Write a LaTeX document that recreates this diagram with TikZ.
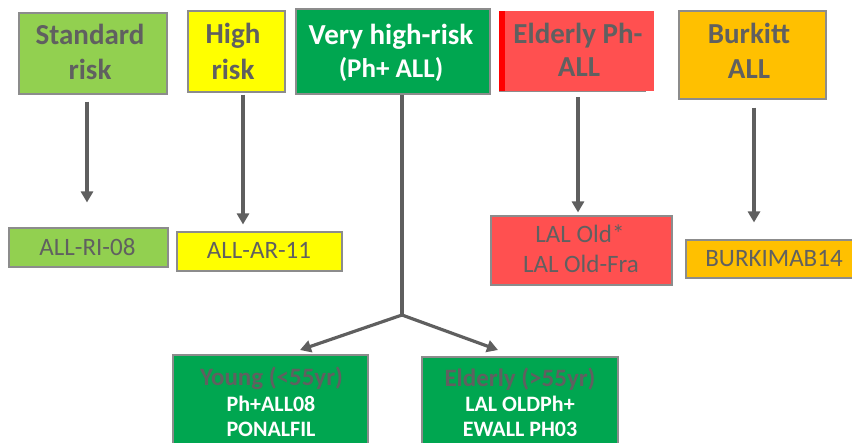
\documentclass[tikz,border=0pt]{standalone}
\usepackage{fontspec}
\setmainfont{Carlito}
\usetikzlibrary{arrows.meta}

\definecolor{lightgreen}{HTML}{92D050}
\definecolor{brightyellow}{HTML}{FFFF00}
\definecolor{deepgreen}{HTML}{00A650}
\definecolor{salmonred}{HTML}{FF5050}
\definecolor{barred}{HTML}{FF0000}
\definecolor{amber}{HTML}{FFC000}
\definecolor{txtgray}{HTML}{606060}
\definecolor{boxline}{HTML}{8C8C8C}
\definecolor{arrowgray}{HTML}{5F5F5F}

\begin{document}
\begin{tikzpicture}[x=1pt,y=-1pt,
  box/.style={draw=boxline, line width=1.1pt, inner sep=0pt},
  plain/.style={inner sep=0pt},
  ttl/.style={font=\fontsize{29}{33}\selectfont\bfseries, text=txtgray, anchor=base, inner sep=0pt},
  ttlw/.style={ttl, text=white},
  ttlsm/.style={ttl, font=\fontsize{25}{29}\selectfont\bfseries},
  sub/.style={font=\fontsize{22}{26}\selectfont\bfseries, text=white, anchor=base, inner sep=0pt},
  subbig/.style={sub, font=\fontsize{27}{31}\selectfont\bfseries},
  reg/.style={font=\fontsize{25}{29}\selectfont, text=txtgray, anchor=base, inner sep=0pt},
  conn/.style={draw=arrowgray, line width=3.2pt},
  arr/.style={conn, -{Triangle[length=11pt,width=12pt]}},
]
\useasboundingbox (0,0) rectangle (852,443);

% risk groups, top row
\node[box, fill=lightgreen, minimum width=148pt, minimum height=81pt] (std) at (93,53.5) {};
\node[box, fill=brightyellow, minimum width=97pt, minimum height=81pt] (high) at (236.5,51.5) {};
\node[box, fill=deepgreen, minimum width=194pt, minimum height=85pt] (vhr) at (393,51.5) {};
\node[plain, fill=salmonred, minimum width=155pt, minimum height=80pt] (eld) at (576.5,51) {};
\fill[barred] (eld.north west) rectangle (eld.south west -| 505,0);
\draw[boxline, line width=1.1pt] (eld.south west) -- (eld.south west -| 646,0);
\node[box, fill=amber, minimum width=147pt, minimum height=88pt] (bur) at (752.5,55) {};

\node[ttl] (stdA) at (90,45) {Standard};
\node[ttl] (stdB) at (90,80) {risk};
\node[ttl] (highA) at (233,44) {High};
\node[ttl] (highB) at (233,80) {risk};
\node[ttlw] (vhrA) at (391,45) {Very high-risk};
\node[subbig] (vhrB) at (391,78) {(Ph+ ALL)};
\node[ttl] (eldA) at (578,44) {Elderly Ph-};
\node[ttl] (eldB) at (579,77) {ALL};
\node[ttl] (burA) at (749,44) {Burkitt};
\node[ttl] (burB) at (749,79) {ALL};

% protocols
\node[box, fill=lightgreen, minimum width=159pt, minimum height=39pt] (stdp) at (88.5,247.5) {};
\node[box, fill=brightyellow, minimum width=165pt, minimum height=39pt] (highp) at (259.5,251.5) {};
\node[box, fill=salmonred, minimum width=181pt, minimum height=69pt] (eldp) at (581.5,250.5) {};
\node[box, fill=amber, minimum width=172pt, minimum height=38pt] (burp) at (772,259) {};
\node[box, fill=deepgreen, minimum width=195pt, minimum height=100pt] (young) at (270.5,405) {};
\node[box, fill=deepgreen, minimum width=196pt, minimum height=100pt] (old) at (520,407) {};

\node[reg] (stdpT) at (87.5,256) {ALL-RI-08};
\node[reg] (highpT) at (259,259) {ALL-AR-11};
\node[reg] (eldpA) at (580,243) {LAL Old*};
\node[reg] (eldpB) at (581,273) {LAL Old-Fra};
\node[reg] (burpT) at (774,267) {BURKIMAB14};

\node[ttlsm] (youngA) at (271.5,386) {Young (<55yr)};
\node[sub] (youngB) at (271,412) {Ph+ALL08};
\node[sub] (youngC) at (271,437) {PONALFIL};
\node[ttlsm] (oldA) at (520,386.5) {Elderly (>55yr)};
\node[sub] (oldB) at (520,412) {LAL OLDPh+};
\node[sub] (oldC) at (520,437) {EWALL PH03};

% connectors
\draw[arr, shorten <=7pt, shorten >=25pt] (std.south -| 87,0) -- (stdp.north -| 87,0);
\draw[arr, shorten <=2pt, shorten >=7pt] (high.south -| 243,0) -- (highp.north -| 243,0);
\draw[arr, shorten <=6pt, shorten >=3pt] (eld.south -| 578,0) -- (eldp.north -| 578,0);
\draw[arr, shorten <=8pt, shorten >=17pt] (bur.south -| 754,0) -- (burp.north -| 754,0);

\coordinate (fork) at (402,315);
\coordinate (youngTip) at (300,350);
\coordinate (oldTip) at (498,350);
\draw[conn] (vhr.south -| fork) -- (fork);
\draw[arr] (fork) -- (youngTip);
\draw[arr] (fork) -- (oldTip);
\end{tikzpicture}
\end{document}
